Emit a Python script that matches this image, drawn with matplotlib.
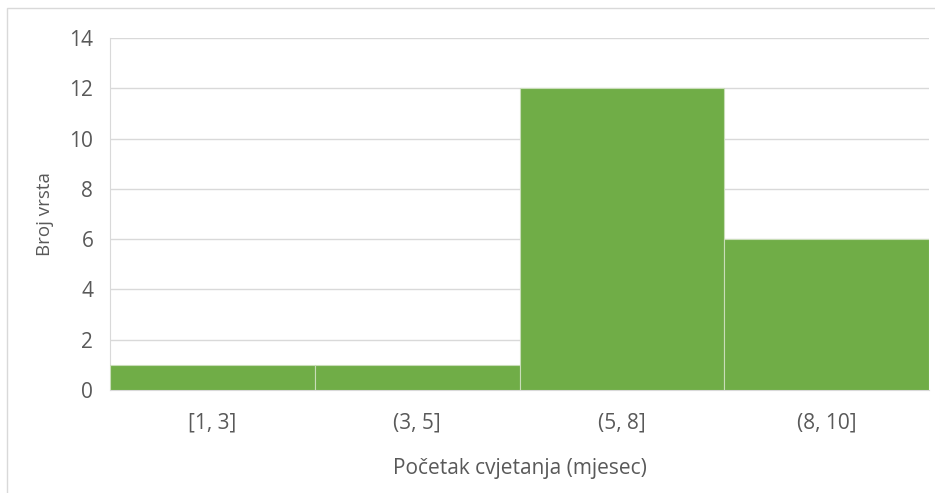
import numpy as np
import matplotlib
matplotlib.use("Agg")
import matplotlib.pyplot as plt
from matplotlib.patches import Rectangle

# podaci
kategorije = ["[1, 3]", "(3, 5]", "(5, 8]", "(8, 10]"]
broj_vrsta = [1, 1, 12, 6]

plt.rcParams['font.family'] = ['Open Sans', 'DejaVu Sans']
siva = "#595959"

fig = plt.figure(figsize=(9.35, 4.93), dpi=100)
ax = fig.add_axes([110/935, 1-390/493, 819/935, 352/493])

x = np.arange(len(kategorije))
ax.bar(x, broj_vrsta, width=1.0, color="#70AD47", edgecolor="#C9DDB8", linewidth=0.8, zorder=3)

ax.set_xlim(-0.5, len(kategorije)-0.5)
ax.set_ylim(0, 14)
ax.set_yticks(np.arange(0, 15, 2))
ax.set_xticks(x)
ax.set_xticklabels(kategorije)
ax.tick_params(axis="both", length=0, labelsize=15, colors=siva)
ax.tick_params(axis="x", pad=16)
ax.tick_params(axis="y", pad=12)
ax.grid(axis="y", color="#D9D9D9", linewidth=1, zorder=0)

for s in ["top", "right"]:
    ax.spines[s].set_visible(False)
ax.spines["left"].set_color("#D9D9D9")
ax.spines["bottom"].set_color("#D9D9D9")

ax.set_ylabel("Broj vrsta", fontsize=13.5, color=siva, labelpad=11)
ax.set_xlabel("Početak cvjetanja (mjesec)", fontsize=15, color=siva, labelpad=18)

# okvir grafikona
fig.patches.append(Rectangle((7/935, -0.1), 1.2, 1-8/493+0.1, transform=fig.transFigure,
                             fill=False, edgecolor="#D9D9D9", linewidth=1))

plt.savefig("out.png", dpi=100)
